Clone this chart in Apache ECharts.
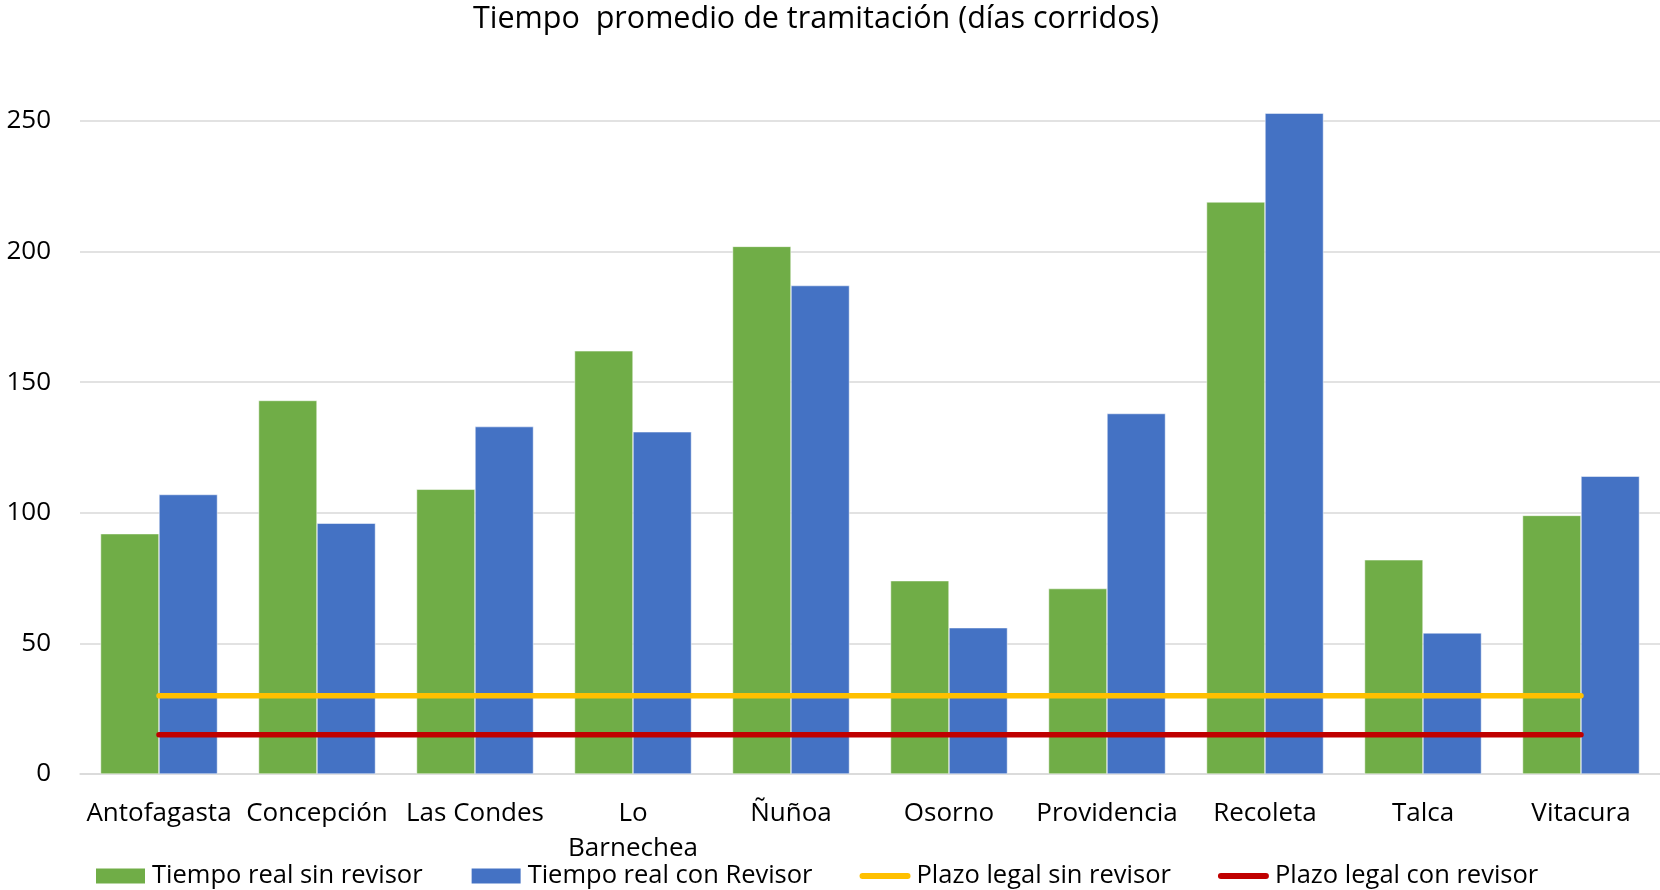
<!DOCTYPE html>
<html>
<head>
<meta charset="utf-8">
<script src="https://cdn.jsdelivr.net/npm/echarts@6/dist/echarts.min.js"></script>
<style>html,body{margin:0;padding:0;background:#fff;}#chart{width:1660px;height:890px;}</style>
</head>
<body>
<div id="chart"></div>
<script>
const categories = ['Antofagasta','Concepción','Las Condes','Lo Barnechea','Ñuñoa','Osorno','Providencia','Recoleta','Talca','Vitacura'];
const realSinRevisor = [92, 143, 109, 162, 202, 74, 71, 219, 82, 99];
const realConRevisor = [107, 96, 133, 131, 187, 56, 138, 253, 54, 114];
const plazoSinRevisor = [30, 30, 30, 30, 30, 30, 30, 30, 30, 30];
const plazoConRevisor = [15, 15, 15, 15, 15, 15, 15, 15, 15, 15];
const seriesNames = ['Tiempo real sin revisor','Tiempo real con Revisor','Plazo legal sin revisor','Plazo legal con revisor'];
const titleText = 'Tiempo  promedio de tramitación (días corridos)';

const FONT = 'Open Sans';
const lineIcon = 'path://M3,0 L48,0 A3,3 0 0 1 48,6 L3,6 A3,3 0 0 1 3,0 Z';
const chart = echarts.init(document.getElementById('chart'));
chart.setOption({
  animation: false,
  backgroundColor: '#fff',
  title: {
    text: titleText, left: 811, top: -1, textAlign: 'center',
    textStyle: {fontFamily: FONT, fontSize: 30.5, fontWeight: 'normal', color: '#000'}
  },
  legend: {
    left: 89, top: 858, itemWidth: 51, itemHeight: 17, itemGap: 47,
    textStyle: {fontFamily: FONT, fontSize: 25.5, color: '#000', padding: [0,0,0,1]},
    data: [
      {name: seriesNames[0], icon: 'rect'},
      {name: seriesNames[1], icon: 'rect'},
      {name: seriesNames[2], icon: lineIcon},
      {name: seriesNames[3], icon: lineIcon}
    ]
  },
  grid: {left: 80, right: 0, top: 121, bottom: 116},
  xAxis: {
    type: 'category', data: categories,
    axisLine: {lineStyle: {color: '#D9D9D9', width: 1.5}},
    axisTick: {show: false},
    axisLabel: {interval: 0, fontFamily: FONT, fontSize: 26, color: '#000', margin: 22, lineHeight: 35,
      formatter: v => v === 'Lo Barnechea' ? 'Lo\nBarnechea' : v}
  },
  yAxis: {
    type: 'value', min: 0, max: 250, interval: 50,
    axisLine: {show: false}, axisTick: {show: false},
    axisLabel: {fontFamily: FONT, fontSize: 26, color: '#000', margin: 29},
    splitLine: {lineStyle: {color: '#D9D9D9', width: 1.5}}
  },
  series: [
    {name: seriesNames[0], type: 'bar', data: realSinRevisor, clip: false, barGap: '0%', barCategoryGap: '26%',
      itemStyle: {color: '#70AD47', borderColor: '#fff', borderWidth: 0.5}},
    {name: seriesNames[1], type: 'bar', data: realConRevisor, clip: false, barGap: '0%', barCategoryGap: '26%',
      itemStyle: {color: '#4472C4', borderColor: '#fff', borderWidth: 0.5}},
    {name: seriesNames[2], type: 'line', data: plazoSinRevisor, symbol: 'none', itemStyle: {color: '#FFC000'},
      lineStyle: {color: '#FFC000', width: 5.5, cap: 'round'}},
    {name: seriesNames[3], type: 'line', data: plazoConRevisor, symbol: 'none', itemStyle: {color: '#C00000'},
      lineStyle: {color: '#C00000', width: 5.5, cap: 'round'}}
  ]
});
</script>
</body>
</html>
